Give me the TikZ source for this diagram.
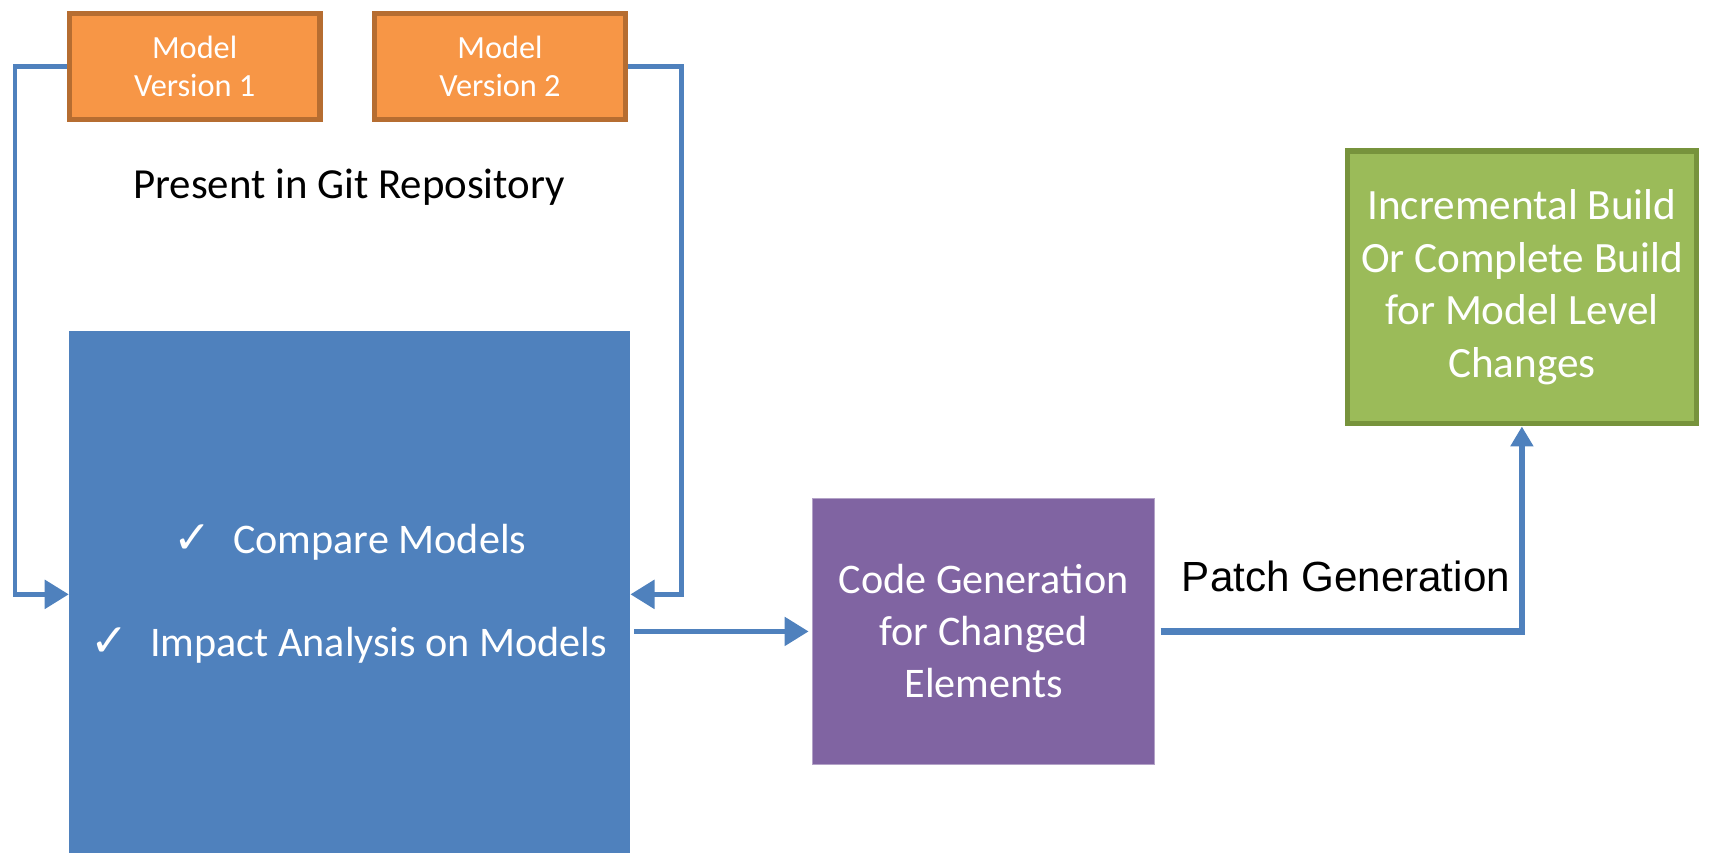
\documentclass[tikz,border=0pt]{standalone}
\usepackage{fontspec}
\setmainfont{Carlito}
\newfontfamily\arialfont{Liberation Sans}
\newfontfamily\checkfont{DejaVu Sans}
\usetikzlibrary{arrows.meta, positioning}
\definecolor{modelorange}{HTML}{F79646}
\definecolor{modeledge}{HTML}{B66D31}
\definecolor{linkblue}{HTML}{4F81BD}
\definecolor{genpurple}{HTML}{8064A2}
\definecolor{genedge}{HTML}{B3A2C7}
\definecolor{buildgreen}{HTML}{9BBB59}
\definecolor{buildedge}{HTML}{77933C}
\tikzstyle{model} = [rectangle, minimum width=2.51cm, minimum height=1.06cm, align=center, draw=modeledge, line width=1.5pt, fill=modelorange, text=white, font=\fontsize{9.2pt}{10.6pt}\selectfont]
\tikzstyle{analysis} = [rectangle, minimum width=5.606cm, minimum height=5.224cm, fill=linkblue, inner sep=0pt]
\tikzstyle{checkitem} = [text=white, font=\fontsize{12pt}{14pt}\selectfont]
\tikzstyle{codegen} = [rectangle, minimum width=3.42cm, minimum height=2.66cm, align=center, draw=genedge, line width=0.4pt, fill=genpurple, text=white, font=\fontsize{12pt}{14.8pt}\selectfont]
\tikzstyle{build} = [rectangle, minimum width=3.49cm, minimum height=2.73cm, align=center, draw=buildedge, line width=1.5pt, fill=buildgreen, text=white, font=\fontsize{12.3pt}{15pt}\selectfont]
\tikzstyle{arrow} = [line width=1.25pt, draw=linkblue, -{Triangle[length=0.24cm, width=0.284cm]}]
\tikzstyle{fatarrow} = [line width=1.85pt, draw=linkblue, -{Triangle[length=0.2cm, width=0.22cm]}]

\begin{document}
\begin{tikzpicture}[x=0.010906cm, y=-0.010906cm, node distance=3.054cm]
\useasboundingbox (0,0) rectangle (1568,782);

\node (mv1) [model] at (178.5,61) {Model\\Version 1};
\node (mv2) [model, right of=mv1] {Model\\Version 2};
\node (git) at (320,172) {\fontsize{12.2pt}{14pt}\selectfont Present in Git Repository};

\node (blue) [analysis, anchor=north west] at (63,303) {};
\node (cmp) [checkitem] at (321,497) {{\checkfont\fontsize{13pt}{14pt}\selectfont ✓}\hspace{0.5em}Compare Models};
\node (imp) [checkitem] at (320,592) {{\checkfont\fontsize{13pt}{14pt}\selectfont ✓}\hspace{0.5em}Impact Analysis on Models};

\node (gen) [codegen] at (902,579) {Code Generation\\for Changed\\Elements};
\node (bld) [build] at (1395.5,263.5) {Incremental Build\\Or Complete Build\\for Model Level\\Changes};

\coordinate (lbend) at (14,545);
\coordinate (rbend) at (625,545);

\draw [arrow] (mv1.west) -| (lbend) -- (blue.west |- lbend);
\draw [arrow] (mv2.east) -| (rbend) -- (blue.east |- rbend);
\draw [arrow, shorten <=1pt, shorten >=1pt] (blue.east |- gen.west) -- (gen.west);
\draw [fatarrow, shorten <=1.5pt] (gen.east) -| node[pos=0.26, anchor=south, yshift=0.25cm, text=black, font=\arialfont\fontsize{12pt}{14pt}\selectfont] {Patch Generation} (bld.south);

\end{tikzpicture}
\end{document}
